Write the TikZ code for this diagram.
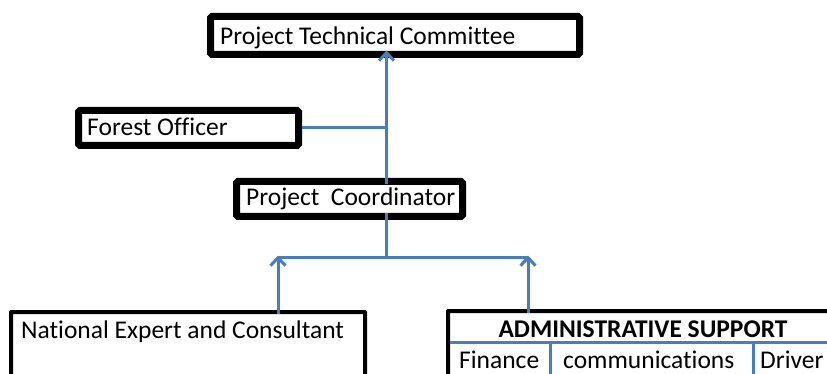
\documentclass[tikz,border=0pt]{standalone}
\usepackage{fontspec}
\setmainfont{Carlito}[Ligatures={NoCommon}]
\usetikzlibrary{arrows.meta}
\definecolor{lineblue}{HTML}{4A7EBB}
\begin{document}
\begin{tikzpicture}[x=1pt,y=-1pt,
  box/.style={draw=black, line width=7pt, rectangle, rounded corners=1.5pt, inner sep=0pt, outer sep=0pt, anchor=north west},
  lowbox/.style={box, line width=4pt, rounded corners=0.5pt},
  lbl/.style={inner sep=0pt, font=\fontsize{25.5}{30}\selectfont},
  conn/.style={draw=lineblue, line width=3pt},
  arr/.style={conn, -{Straight Barb[length=8pt,width=15pt,line width=3pt]}}]
\useasboundingbox (0,0) rectangle (827,374);
\clip (0,0) rectangle (827,374);
% boxes
\node[box, minimum width=369pt, minimum height=38pt] (ptc) at (210.5,16.5) {};
\node[box, minimum width=220pt, minimum height=35pt] (fo) at (78.5,110.5) {};
\node[box, minimum width=226pt, minimum height=35pt] (pc) at (236.5,181.5) {};
\node[lowbox, minimum width=354pt, minimum height=100pt] (nec) at (11,312) {};
\node[lowbox, minimum width=420pt, minimum height=100pt] (adm) at (448,311) {};
% labels
\node[lbl, anchor=base west] (ptcT) at (220,45) {Project Technical Committee};
\node[lbl, anchor=base west] (foT) at (87,136) {Forest Officer};
\node[lbl, anchor=base west] (pcT) at (246,206) {Project\ \ Coordinator};
\node[lbl, anchor=base west] (necT) at (21,338) {National Expert and Consultant};
\node[lbl, anchor=base, font=\fontsize{25.5}{30}\selectfont\bfseries] (admT) at (643,337) {ADMINISTRATIVE SUPPORT};
\node[lbl, anchor=base west] (fin) at (459,368) {Finance};
\node[lbl, anchor=base west] (com) at (563,368) {communications};
\node[lbl, anchor=base west] (drv) at (760,368) {Driver};
% connector coordinates
\coordinate (spine) at (386.5,0);
\coordinate (j) at (386.5,257);
\coordinate (jl) at (278,257);
\coordinate (jr) at (528,257);
\coordinate (sep) at (448,342);
\coordinate (c1) at (550,342);
\coordinate (c2) at (753,342);
\coordinate (bot) at (0,380);
% connectors
\draw[arr] ([yshift=-3pt]pc.north -| spine) -- ([yshift=4pt]ptc.south -| spine);
\draw[conn] ([xshift=3pt]fo.east) -- (fo.east -| spine);
\draw[conn] ([yshift=3pt]pc.south -| spine) -- (j);
\draw[conn] (jl) -- (jr);
\draw[arr] ([yshift=-2pt]nec.north -| jl) -- ([yshift=1.5pt]jl);
\draw[arr] ([yshift=-2pt]adm.north -| jr) -- ([yshift=1.5pt]jr);
\draw[conn] ([xshift=2pt]sep) -- (sep -| adm.east);
\draw[conn] (c1) -- (c1 |- bot);
\draw[conn] (c2) -- (c2 |- bot);
\end{tikzpicture}
\end{document}
